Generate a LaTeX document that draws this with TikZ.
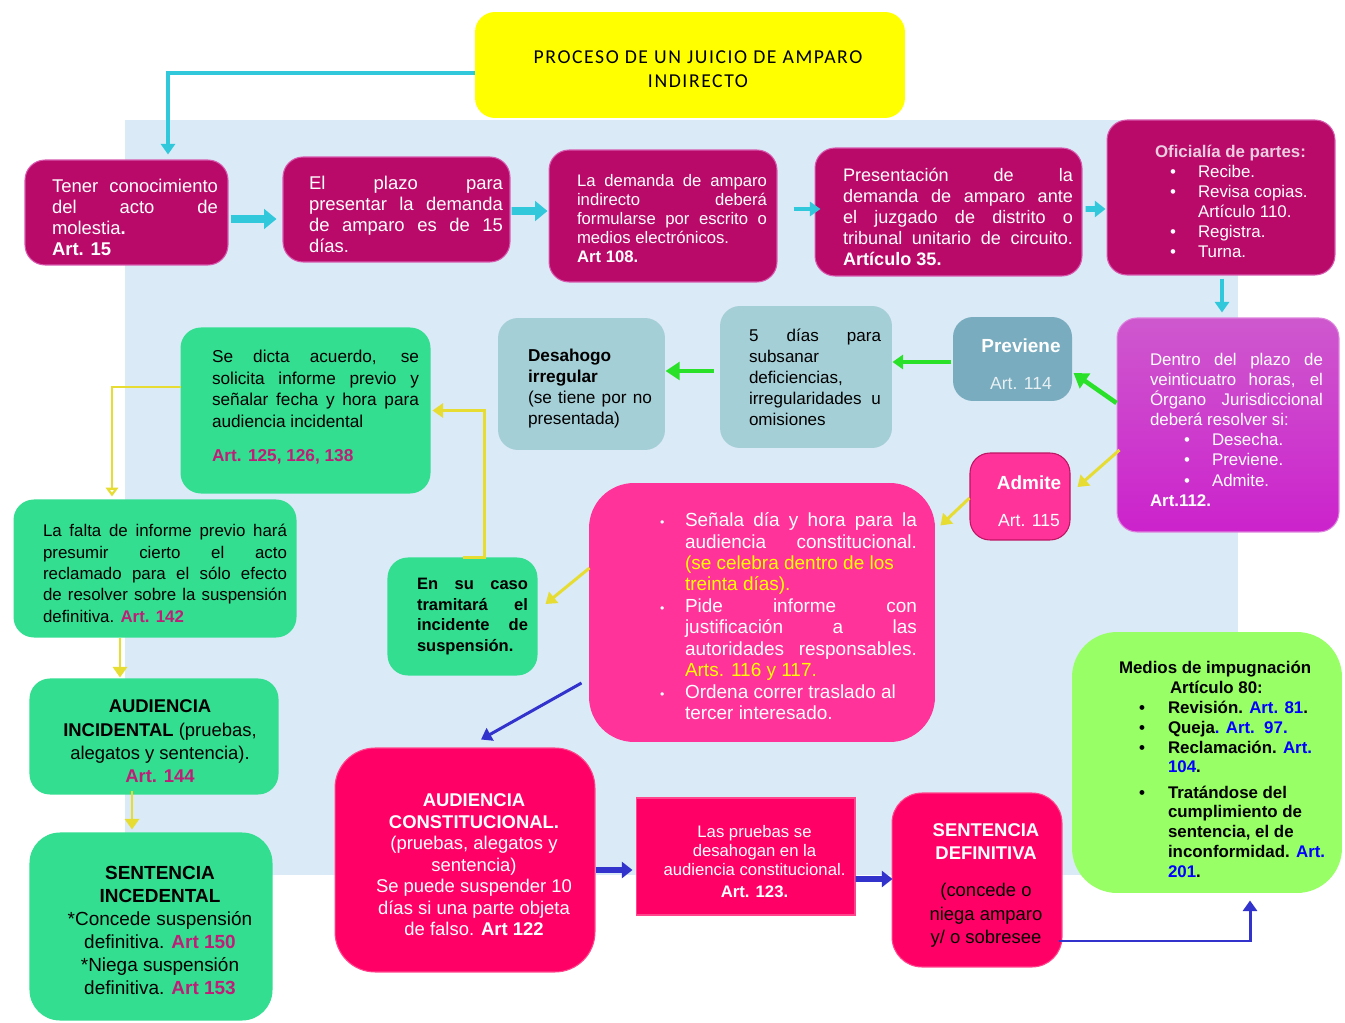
\documentclass[tikz,border=0pt]{standalone}
\usepackage{fontspec}
\setmainfont{Liberation Sans}
\newfontfamily\titlefont{Carlito}[LetterSpace=8]
\usetikzlibrary{arrows.meta,calc}

\definecolor{magbox}{RGB}{185,10,105}
\definecolor{magline}{RGB}{215,90,175}
\definecolor{bgblue}{RGB}{218,234,246}
\definecolor{arrcyan}{RGB}{50,200,220}
\definecolor{titleyel}{RGB}{255,255,0}
\definecolor{purtop}{RGB}{206,88,206}
\definecolor{purbot}{RGB}{204,34,204}
\definecolor{purline}{RGB}{222,130,222}
\definecolor{tealdark}{RGB}{120,172,190}
\definecolor{teallight}{RGB}{165,207,215}
\definecolor{arrgreen}{RGB}{40,225,40}
\definecolor{pinkbox}{RGB}{255,51,153}
\definecolor{pinkline}{RGB}{190,20,100}
\definecolor{arrylw}{RGB}{230,220,50}
\definecolor{grnbox}{RGB}{51,222,145}
\definecolor{artmag}{RGB}{190,30,120}
\definecolor{redbox}{RGB}{255,0,102}
\definecolor{redline}{RGB}{255,70,140}
\definecolor{arrblue}{RGB}{50,50,205}
\definecolor{limebox}{RGB}{153,255,102}
\definecolor{arttxt}{RGB}{0,0,255}
\definecolor{ylwtxt}{RGB}{255,255,0}
\definecolor{artlight}{RGB}{232,240,244}
\definecolor{headtxt}{RGB}{235,205,225}

\setlength{\parindent}{0pt}
\setlength{\parskip}{0pt}
\hyphenpenalty=10000
\exhyphenpenalty=10000
\newcommand{\fs}[2]{\fontsize{#1}{#2}\selectfont}
\newcommand{\lsk}[1]{\leftskip=#1\relax}
\newcommand{\csk}[1]{\leftskip=#1 plus 1fil\rightskip=0pt plus 1fil\parfillskip=0pt\relax}
\newcommand{\dn}[1][5.6pt]{\par\vspace{-#1}}
\newcommand{\blt}[2]{\hspace*{#1}\makebox[#2][l]{\textbullet}}
\newcommand{\kitem}{\par\hangindent=0.5cm\hangafter=1\noindent\makebox[0.5cm][l]{\scriptsize\textbullet}}

\begin{document}
\begin{tikzpicture}[x=0.02cm,y=-0.02cm]
\tikzstyle{box}=[rectangle, rounded corners=0.4cm, inner sep=0pt, align=justify, line width=0.6pt]
\tikzstyle{magbx}=[box, fill=magbox, draw=magline, text=white]
\tikzstyle{grnbx}=[box, fill=grnbox, draw=grnbox, text=black]
\tikzstyle{redbx}=[box, fill=redbox, draw=redline, text=white]
\tikzstyle{conncyan}=[draw=arrcyan, line width=1.8pt, -{Triangle[length=6pt,width=8pt]}]
\tikzstyle{conncyanmid}=[draw=arrcyan, line width=3.2pt, -{Triangle[length=6pt,width=9pt]}]
\tikzstyle{conncyanfat}=[draw=arrcyan, line width=4.5pt, -{Triangle[length=7pt,width=11pt]}]
\tikzstyle{conngrn}=[draw=arrgreen, line width=1.8pt, -{Triangle[length=6pt,width=8pt]}]
\tikzstyle{conngrnfat}=[draw=arrgreen, line width=2.6pt, -{Triangle[length=8pt,width=10pt]}]
\tikzstyle{connylw}=[draw=arrylw, line width=1.7pt, -{Triangle[length=6pt,width=8pt]}]
\tikzstyle{connylwopen}=[draw=arrylw, line width=1.7pt, -{Triangle[open,length=5pt,width=7pt]}]
\tikzstyle{connblue}=[draw=arrblue, line width=1.7pt, -{Triangle[length=6pt,width=8pt]}]
\tikzstyle{connbluefat}=[draw=arrblue, line width=3.4pt, -{Triangle[length=6pt,width=9pt]}]

\fill[white] (0,0) rectangle (1345,1023);
\useasboundingbox (0,0) rectangle (1345,1023);
\fill[bgblue] (125,120) rectangle (1238,875);

\node[box, fill=titleyel, minimum width=8.6cm, minimum height=2.12cm, text width=7.8cm, font=\titlefont\fs{11.2}{13.6}] (titulo) at (690,65) {\csk{0.32cm}\rule{0pt}{12pt}PROCESO DE UN JUICIO DE AMPARO\par INDIRECTO\par};

\node[magbx, minimum width=4.06cm, minimum height=2.1cm, text width=3.66cm, font=\fs{10.5}{12}] (tener) at (126.5,212.5) {\lsk{0.34cm}Tener conocimiento\linebreak del acto de\linebreak molestia\textbf{.}\newline\textbf{Art. 15}\dn};
\node[magbx, minimum width=4.54cm, minimum height=2.1cm, text width=4.26cm, font=\fs{10.5}{12}] (plazo) at (396.5,209.5) {\lsk{0.38cm}El plazo para\linebreak presentar la demanda\linebreak de amparo es de 15\linebreak días.\dn};
\node[magbx, minimum width=4.56cm, minimum height=2.64cm, text width=4.16cm, font=\fs{9.5}{10.8}] (demanda) at (663,216) {\lsk{0.36cm}La demanda de amparo\linebreak indirecto deberá\linebreak formularse por escrito o\linebreak medios electrónicos.\newline\textbf{Art 108.}\dn[3pt]};
\node[magbx, minimum width=5.34cm, minimum height=2.56cm, text width=4.98cm, font=\fs{10.3}{12}] (presenta) at (948.5,212) {\lsk{0.38cm}Presentación de la\linebreak demanda de amparo ante\linebreak el juzgado de distrito o\linebreak tribunal unitario de circuito.\linebreak\textbf{Artículo 35.}\dn};
\node[magbx, minimum width=4.56cm, minimum height=3.1cm, text width=3.8cm, font=\fs{9.6}{11.3}] (oficialia) at (1221,197.5) {\hspace*{0.58cm}\textbf{\textcolor{headtxt}{Oficialía de partes:}}\newline\blt{0.88cm}{0.56cm}Recibe.\newline\blt{0.88cm}{0.56cm}Revisa copias.\newline\hspace*{1.44cm}Artículo 110.\newline\blt{0.88cm}{0.56cm}Registra.\newline\blt{0.88cm}{0.56cm}Turna.\dn[4.5pt]};

\node[box, top color=purtop, bottom color=purbot, draw=purline, text=white, minimum width=4.44cm, minimum height=4.28cm, text width=3.8cm, font=\fs{9.6}{11.4}] (dentro) at (1228,425) {\lsk{0.34cm}Dentro del plazo de\linebreak veinticuatro horas, el\linebreak Órgano Jurisdiccional\linebreak deberá resolver si:\newline\blt{0.68cm}{0.56cm}Desecha.\newline\blt{0.68cm}{0.56cm}Previene.\newline\blt{0.68cm}{0.56cm}Admite.\newline\textbf{Art.112.}\dn};
\node[box, fill=tealdark, text=white, minimum width=2.38cm, minimum height=1.68cm, text width=2.0cm, font=\fs{10}{12}] (previene) at (1012.5,359) {\csk{0.34cm}{\bfseries\fs{10.8}{12}Previene}\par\vspace{9pt}{\color{artlight}Art. 114}\dn};
\node[box, fill=teallight, minimum width=3.44cm, minimum height=2.84cm, text width=3.0cm, font=\fs{9.7}{11.9}] (cinco) at (806,377) {\lsk{0.36cm}5 días para\linebreak subsanar\newline deficiencias,\newline irregularidades u\linebreak omisiones\dn};
\node[box, fill=teallight, minimum width=3.34cm, minimum height=2.64cm, text width=2.82cm, font=\fs{9.8}{11.9}] (desahogo) at (581.5,384) {\lsk{0.34cm}\rule{0pt}{12.4pt}\textbf{Desahogo}\newline\textbf{irregular}\newline(se tiene por no\linebreak presentada)\dn};
\node[box, fill=pinkbox, draw=pinkline, text=white, minimum width=2cm, minimum height=1.74cm, text width=1.8cm, font=\fs{10}{12}] (admite) at (1020,496.5) {\csk{0.36cm}{\bfseries\fs{10.8}{12}Admite}\par\vspace{9pt}Art. 115\dn};

\node[box, rounded corners=0.9cm, fill=pinkbox, text=white, minimum width=6.92cm, minimum height=5.18cm, text width=6.2cm, font=\fs{10.8}{12.2}] (senala) at (762,612.5) {\lsk{1.06cm}\kitem Señala día y hora para la\linebreak audiencia constitucional.\linebreak\textcolor{ylwtxt}{(se celebra dentro de los\newline treinta días).}\kitem Pide informe con\linebreak justificación a las\linebreak autoridades responsables.\linebreak\textcolor{ylwtxt}{Arts. 116 y 117.}\kitem Ordena correr traslado al\newline tercer interesado.\par};
\node[grnbx, minimum width=2.98cm, minimum height=2.34cm, text width=2.62cm, font=\bfseries\fs{9.4}{11.9}] (caso) at (462.5,616.5) {\lsk{0.4cm}En su caso\linebreak tramitará el\linebreak incidente de\linebreak suspensión.\par};
\node[grnbx, minimum width=4.98cm, minimum height=3.3cm, text width=4.54cm, font=\fs{9.8}{12.2}] (dicta) at (305.5,410.5) {\lsk{0.4cm}Se dicta acuerdo, se\linebreak solicita informe previo y\linebreak señalar fecha y hora para\linebreak audiencia incidental\par\vspace{7.5pt}\textbf{\textcolor{artmag}{Art. 125, 126, 138}}\par\vspace{3.4pt}};
\node[grnbx, minimum width=5.64cm, minimum height=2.74cm, text width=5.28cm, font=\fs{9.6}{12.2}] (falta) at (155,568.5) {\lsk{0.4cm}La falta de informe previo hará\linebreak presumir cierto el acto\linebreak reclamado para el sólo efecto\linebreak de resolver sobre la suspensión\linebreak definitiva. \textbf{\textcolor{artmag}{Art. 142}}\dn};
\node[grnbx, minimum width=4.96cm, minimum height=2.3cm, text width=4.6cm, font=\fs{10.5}{13.3}] (audinc) at (154,736.5) {\csk{0.24cm}\textbf{AUDIENCIA}\par\textbf{INCIDENTAL} (pruebas,\par alegatos y sentencia).\par\textbf{\textcolor{artmag}{Art. 144}}\dn};
\node[grnbx, rounded corners=0.6cm, minimum width=4.84cm, minimum height=3.74cm, text width=4.4cm, font=\fs{10.8}{13}] (sentinc) at (151,926.5) {\csk{0.36cm}\textbf{SENTENCIA}\par\textbf{INCEDENTAL}\par*Concede suspensión\par definitiva. \textbf{\textcolor{artmag}{Art 150}}\par*Niega suspensión\par definitiva. \textbf{\textcolor{artmag}{Art 153}}\dn[4.5pt]};

\node[redbx, rounded corners=0.8cm, minimum width=5.2cm, minimum height=4.48cm, text width=4.6cm, font=\fs{10.5}{12.2}] (audcon) at (465,860) {\csk{0.36cm}\textbf{AUDIENCIA}\par\textbf{CONSTITUCIONAL.}\par(pruebas, alegatos y\par sentencia)\par Se puede suspender 10\par días si una parte objeta\par de falso. \textbf{Art 122}\dn};
\node[redbx, sharp corners, minimum width=4.38cm, minimum height=2.34cm, text width=4.2cm, font=\fs{9.5}{10.8}] (pruebas) at (745.5,856.5) {\csk{0.36cm}Las pruebas se\par desahogan en la\par audiencia constitucional.\par\vspace{2pt}\textbf{Art. 123.}\dn};
\node[redbx, rounded corners=0.6cm, minimum width=3.4cm, minimum height=3.48cm, text width=3.0cm, font=\fs{10.5}{13.3}] (sentdef) at (977,880) {\csk{0.36cm}\textbf{SENTENCIA}\par\textbf{DEFINITIVA}\par\vspace{8pt}{\color{black}(concede o\par niega amparo\par y/ o sobresee\par}\vspace{-6pt}};
\node[box, rounded corners=0.9cm, fill=limebox, minimum width=5.4cm, minimum height=5.22cm, text width=5.0cm, font=\bfseries\fs{9.6}{11.3}] (medios) at (1207,762.5) {\rule{0pt}{15pt}\hspace*{0.74cm}Medios de impugnación\newline\hspace*{1.76cm}Artículo 80:\newline\blt{1.14cm}{0.58cm}Revisión. \textcolor{arttxt}{Art. 81}.\newline\blt{1.14cm}{0.58cm}Queja\textcolor{arttxt}{. Art.\ \ 97.}\newline\blt{1.14cm}{0.58cm}Reclamación. \textcolor{arttxt}{Art.}\newline\hspace*{1.72cm}\textcolor{arttxt}{104}.\par\vspace{3pt}\blt{1.14cm}{0.58cm}Tratándose del\newline\hspace*{1.72cm}cumplimiento de\newline\hspace*{1.72cm}sentencia, el de\newline\hspace*{1.72cm}inconformidad. \textcolor{arttxt}{Art.}\newline\hspace*{1.72cm}\textcolor{arttxt}{201}.\par};

\draw[conncyan] ($(titulo.west)+(0,8)$) -| ($(tener.north)+(41.5,-5)$);
\path ($(tener.east)+(2,6.5)$) edge[conncyanfat] ($(plazo.west)+(-6,9.5)$);
\path ($(plazo.east)+(1,1.5)$) edge[conncyanfat] ($(demanda.west)+(-1,-5)$);
\path ($(demanda.east)+(16,-7)$) edge[conncyan] ($(presenta.west)+(6,-3)$);
\path ($(presenta.east)+(3,-3)$) edge[conncyanmid] ($(oficialia.west)+(-1,11.5)$);
\path ($(oficialia.south)+(1,3)$) edge[conncyan] ($(dentro.north)+(-6,-5)$);
\path ($(dentro.west)+(0,-22)$) edge[conngrnfat] ($(previene.east)+(1,14)$);
\path ($(previene.west)+(-1,3)$) edge[conngrn] ($(cinco.east)+(0,-15)$);
\path ($(cinco.west)+(-6,-6)$) edge[conngrnfat] ($(desahogo.east)+(0,-13)$);
\path ($(dentro.west)+(3,25)$) edge[connylw] ($(admite.east)+(7,-9.5)$);
\path ($(admite.west)+(0,1.5)$) edge[connylw] ($(senala.north east)+(5,43)$);
\path ($(senala.west)+(1,-44.5)$) edge[connylw] ($(caso.east)+(8,-12.5)$);
\draw[connylw] (caso.north) -- ++(21.5,0) |- ($(dicta.east)+(2,0)$);
\draw[connylwopen] ($(dicta.west)+(0,-23.5)$) -| ($(falta.north)+(-43,-3)$);
\path ($(falta.south)+(-35,0)$) edge[connylw] ($(audinc.north)+(-34,-1)$);
\path ($(audinc.south)+(-22,-4)$) edge[connylw] ($(sentinc.north)+(-19,-3)$);
\path ($(senala.west)+(-7,70.5)$) edge[connblue] ($(audcon.north)+(16,-8)$);
\path ($(audcon.east)+(0,10)$) edge[connbluefat] ($(pruebas.west)+(-3,13.5)$);
\path ($(pruebas.east)+(0,22.5)$) edge[connbluefat] ($(sentdef.west)+(1,-1)$);
\draw[connblue] ($(sentdef.east)+(-4,61)$) -| ($(medios.south)+(43,7)$);
\end{tikzpicture}
\end{document}
